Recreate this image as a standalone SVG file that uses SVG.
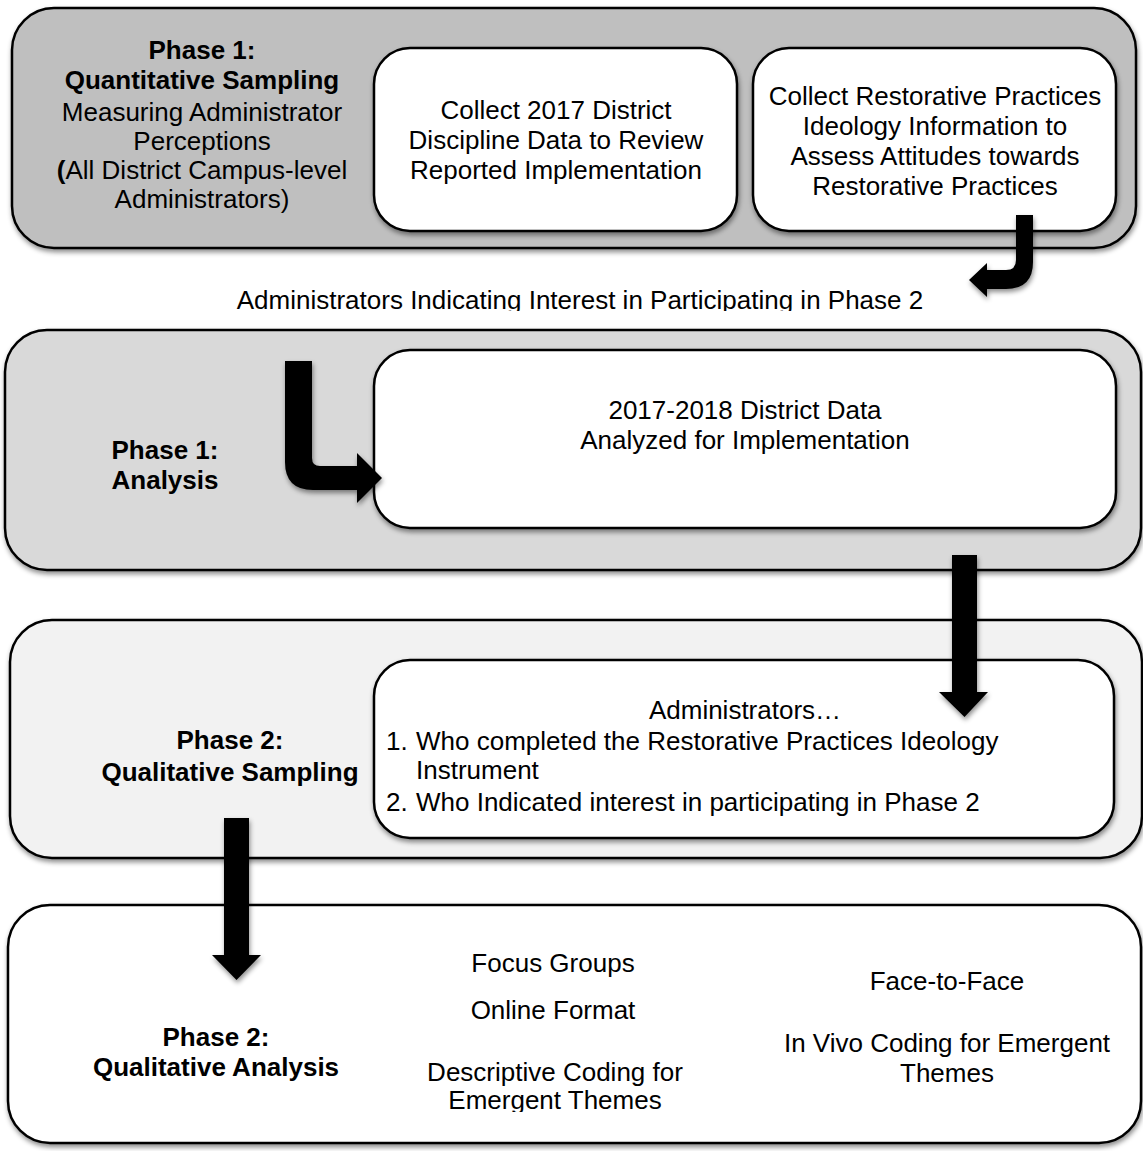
<svg xmlns="http://www.w3.org/2000/svg" width="1143" height="1151" viewBox="0 0 1143 1151">
<style>
  text { font-family: "Liberation Sans", Arial, sans-serif; font-size: 26px; fill: #000; }
  .c { text-anchor: middle; }
  .b { font-weight: bold; }
  .box { stroke: #000; stroke-width: 2.5; }
  .arrow { fill: #000; }
</style>
<defs>
  <filter id="sh" x="-10%" y="-10%" width="120%" height="130%">
    <feDropShadow dx="1" dy="3" stdDeviation="2.5" flood-color="#000" flood-opacity="0.45"/>
  </filter>
  <clipPath id="clipMid"><rect x="0" y="280" width="1143" height="31"/></clipPath>
  <clipPath id="clipEm"><rect x="380" y="1080" width="360" height="32"/></clipPath>
</defs>

<g id="phase1-sampling">
  <rect class="box" x="12" y="8" width="1124" height="240" rx="42" fill="#bfbfbf" filter="url(#sh)"/>
  <text class="c" x="202"><tspan class="b" x="202" y="59">Phase 1:</tspan><tspan class="b" x="202" y="89">Quantitative Sampling</tspan><tspan x="202" y="121">Measuring Administrator</tspan><tspan x="202" y="150">Perceptions</tspan><tspan x="202" y="179"><tspan class="b">(</tspan>All District Campus-level</tspan><tspan x="202" y="208">Administrators)</tspan></text>
</g>
<g id="collect-discipline">
  <rect class="box" x="374" y="48" width="363" height="183" rx="36" fill="#fff" filter="url(#sh)"/>
  <text class="c"><tspan x="556" y="119">Collect 2017 District</tspan><tspan x="556" y="149">Discipline Data to Review</tspan><tspan x="556" y="179">Reported Implementation</tspan></text>
</g>
<g id="collect-ideology">
  <rect class="box" x="753" y="48" width="363" height="183" rx="36" fill="#fff" filter="url(#sh)"/>
  <text class="c"><tspan x="935" y="105">Collect Restorative Practices</tspan><tspan x="935" y="135">Ideology Information to</tspan><tspan x="935" y="165">Assess Attitudes towards</tspan><tspan x="935" y="195">Restorative Practices</tspan></text>
</g>

<g id="interest-label">
  <text class="c" x="580" y="309" clip-path="url(#clipMid)">Administrators Indicating Interest in Participating in Phase 2</text>
</g>

<g id="phase1-analysis">
  <rect class="box" x="5" y="330" width="1136" height="240" rx="42" fill="#d9d9d9" filter="url(#sh)"/>
  <text class="c b"><tspan x="165" y="459">Phase 1:</tspan><tspan x="165" y="489">Analysis</tspan></text>
</g>
<g id="district-data">
  <rect class="box" x="374" y="350" width="742" height="178" rx="36" fill="#fff" filter="url(#sh)"/>
  <text class="c"><tspan x="745" y="419">2017-2018 District Data</tspan><tspan x="745" y="449">Analyzed for Implementation</tspan></text>
</g>

<g id="phase2-sampling">
  <rect class="box" x="10" y="620" width="1132" height="238" rx="42" fill="#f2f2f2" filter="url(#sh)"/>
  <text class="c b"><tspan x="230" y="749">Phase 2:</tspan><tspan x="230" y="781">Qualitative Sampling</tspan></text>
</g>
<g id="administrators">
  <rect class="box" x="374" y="660" width="740" height="178" rx="36" fill="#fff" filter="url(#sh)"/>
  <text class="c" x="745" y="719">Administrators…</text>
  <text x="386" y="750">1.</text>
  <text x="416" y="750">Who completed the Restorative Practices Ideology</text>
  <text x="416" y="779">Instrument</text>
  <text x="386" y="811">2.</text>
  <text x="416" y="811">Who Indicated interest in participating in Phase 2</text>
</g>

<g id="phase2-analysis">
  <rect class="box" x="8" y="905" width="1133" height="238" rx="42" fill="#fff" filter="url(#sh)"/>
  <text class="c b"><tspan x="216" y="1046">Phase 2:</tspan><tspan x="216" y="1076">Qualitative Analysis</tspan></text>
  <text class="c" x="553" y="972">Focus Groups</text>
  <text class="c" x="553" y="1019">Online Format</text>
  <text class="c" x="555" y="1081">Descriptive Coding for</text>
  <text class="c" x="555" y="1109" clip-path="url(#clipEm)">Emergent Themes</text>
  <text class="c" x="947" y="990">Face-to-Face</text>
  <text class="c" x="947" y="1052">In Vivo Coding for Emergent</text>
  <text class="c" x="947" y="1082">Themes</text>
</g>

<g id="connectors" filter="url(#sh)">
  <path class="arrow" d="M1016,215 H1033 V262 Q1033,289 1006,289 H987 V297 L969,280 L987,263 V270 H1006 Q1016,270 1016,260 Z"/>
  <path class="arrow" d="M285,361 H312 V458 Q312,466 320,466 H357 V453 L382,478 L357,503 V490 H313 Q285,490 285,462 Z"/>
  <path class="arrow" d="M952,555 H977 V692 H988 L964.5,717 L939,692 H952 Z"/>
  <path class="arrow" d="M224,818 H249 V955 H261 L236.5,980 L212,955 H224 Z"/>
</g>
</svg>
